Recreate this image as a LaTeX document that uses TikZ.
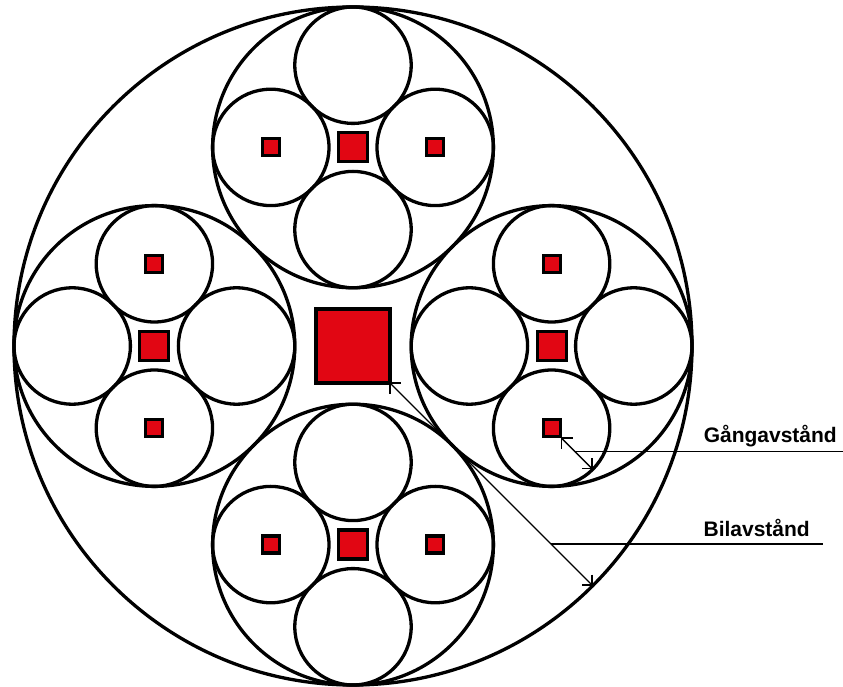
\documentclass[tikz,border=0pt]{standalone}
\usepackage{fontspec}
\setmainfont{Liberation Sans}
\usepackage{tikz}
\usetikzlibrary{arrows.meta, calc}
\definecolor{stopred}{RGB}{225, 6, 19}

\begin{document}
\begin{tikzpicture}[x=1pt, y=1pt,
    ring/.style={draw, circle, line width=3.3pt, inner sep=0pt, outer sep=0pt},
    stopbox/.style={draw, rectangle, fill=stopred, line width=3.2pt, inner sep=0pt, outer sep=0pt},
    gap/.style={line width=1.4pt, -{Straight Barb[angle=90:10.5pt]}},
    lead/.style={line width=1.4pt},
    tag/.style={font=\fontsize{21}{25}\selectfont\bfseries, inner sep=0pt}]
    \useasboundingbox (-353,-341) rectangle (490,346);

    % outer ring
    \node [ring, minimum size=678pt] (big) at (0,0) {};

    % four rings with their small rings and stops
    \foreach \a/\n in {90/top, 180/left, 0/right, 270/bottom} {
        \node [ring, minimum size=280.8pt] (\n) at (\a:198.6) {};
        \foreach \b in {0, 90, 180, 270}
            \node [ring, minimum size=116.4pt] (\n-\b) at ($(\a:198.6)+(\b:82.2)$) {};
    }

    % distances
    \draw [gap] (0,0) ++(37,-37) coordinate (csq) -- coordinate[pos=0.794] (bstart) (big.-45);
    \draw [lead] (csq) -- ++(11,0);
    \draw [lead] (csq) -- ++(0,-11);
    \draw [gap] (0:198.6) ++(0,-82.2) ++(10,-10) coordinate (ssq) -- coordinate[pos=0.43] (gstart) (right-270.-45);
    \draw [lead] (ssq) -- ++(11,0);
    \draw [lead] (ssq) -- ++(0,-11);

    \foreach \a/\n in {90/top, 180/left, 0/right, 270/bottom} {
        \node [stopbox, minimum size=29pt] (\n-sq) at (\a:198.6) {};
        \foreach \b in {90, 270}
            \node [stopbox, minimum size=17pt] (\n-s\b) at ($(\a:198.6)+({\a+\b}:82.2)$) {};
    }
    \node [stopbox, minimum size=74pt] (centre) at (0,0) {};

    % labels
    \coordinate (gend) at (490,-106);
    \coordinate (bend) at (470,-198);
    \draw [lead] (gstart) -- (gstart -| gend);
    \draw [lead] (bstart) -- (bstart -| bend);
    \node [tag, anchor=base east] (gang) at (484,-97) {Gångavstånd};
    \node [tag, anchor=base east] (bil) at (457,-191) {Bilavstånd};
\end{tikzpicture}
\end{document}
